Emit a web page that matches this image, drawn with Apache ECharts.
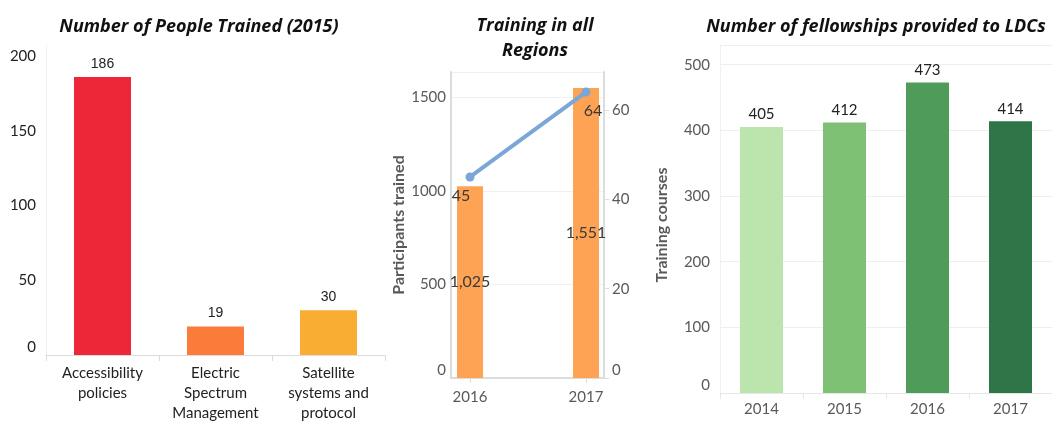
<!DOCTYPE html>
<html>
<head>
<meta charset="utf-8">
<script src="https://cdn.jsdelivr.net/npm/echarts@6/dist/echarts.min.js"></script>
<style>
  html, body { margin: 0; padding: 0; background: #fff; }
  #chart { width: 1052px; height: 423px; }
</style>
</head>
<body>
<div id="chart"></div>
<script>
// People trained in 2015, by course topic
const topics = ['Accessibility\npolicies', 'Electric\nSpectrum\nManagement', 'Satellite\nsystems and\nprotocol'];
const peopleTrained = [186, 19, 30];
const topicColors = ['#ED2738', '#FB7B3B', '#F9AE33'];

// Training in all regions
const regionYears = [2016, 2017];
const participants = [1025, 1551];
const courses = [45, 64];

// Fellowships provided to LDCs
const fellowYears = ['2014', '2015', '2016', '2017'];
const fellowships = [405, 412, 473, 414];
const fellowColors = ['#BCE4AD', '#7FC174', '#4F9C5A', '#2E7548'];

const FONT = 'Lato, "Open Sans", sans-serif';
const GRAY = '#595959';

const chart = echarts.init(document.getElementById('chart'), null, { renderer: 'canvas' });

const titleStyle = { fontFamily: '"Open Sans", Lato, sans-serif', fontSize: 18, fontWeight: 'bold', fontStyle: 'italic', color: '#111', lineHeight: 25 };
const nameStyle = { fontFamily: FONT, fontSize: 16, fontWeight: 'bold', color: GRAY };

const option = {
  animation: false,
  title: [
    { text: 'Number of People Trained (2015)', left: 194, top: 9, textAlign: 'center', textStyle: titleStyle },
    { text: 'Training in all\nRegions', left: 530, top: 8, textAlign: 'center', textStyle: titleStyle },
    { text: 'Number of fellowships provided to LDCs', left: 871, top: 9, textAlign: 'center', textStyle: titleStyle }
  ],
  grid: [
    { left: 46, top: 45.5, width: 339, height: 310.5 },
    { left: 451, top: 72, width: 153, height: 306 },
    { left: 720, top: 45, width: 344, height: 348 }
  ],
  xAxis: [
    {
      gridIndex: 0, type: 'category', data: topics,
      axisLine: { lineStyle: { color: '#dcdcdc' } },
      axisTick: { show: true, length: 6, lineStyle: { color: '#dcdcdc' } },
      axisLabel: { fontFamily: FONT, fontSize: 15, color: '#222', lineHeight: 20, margin: 8, interval: 0 }
    },
    {
      gridIndex: 1, type: 'value', min: 2015.836, max: 2017.155,
      splitLine: { show: false },
      axisLine: { show: true, lineStyle: { color: '#dcdcdc', width: 2 } },
      axisTick: { show: true, customValues: regionYears, length: 5, lineStyle: { color: '#dcdcdc' } },
      axisLabel: { customValues: regionYears, fontFamily: FONT, fontSize: 15, color: GRAY, margin: 12, formatter: v => String(v) }
    },
    {
      gridIndex: 2, type: 'category', data: fellowYears,
      axisLine: { lineStyle: { color: '#e6e6e6' } },
      axisTick: { show: true, length: 6, lineStyle: { color: '#e6e6e6' } },
      axisLabel: { fontFamily: FONT, fontSize: 15, color: GRAY, margin: 9 }
    }
  ],
  yAxis: [
    {
      gridIndex: 0, type: 'value', min: 0, max: 207, interval: 50,
      splitLine: { show: false },
      axisLine: { show: true, lineStyle: { color: '#f0f0f0' } },
      axisTick: { show: false },
      axisLabel: { fontFamily: FONT, fontSize: 15, color: '#222', margin: 10, showMaxLabel: false, verticalAlignMinLabel: 'bottom' }
    },
    {
      gridIndex: 1, type: 'value', min: 0, max: 1636, interval: 500,
      name: 'Participants trained', nameLocation: 'middle', nameRotate: 90, nameGap: 44,
      nameTextStyle: nameStyle,
      splitLine: { show: true, lineStyle: { color: '#f0f0f0' } },
      axisLine: { show: true, lineStyle: { color: '#dcdcdc', width: 2 } },
      axisTick: { show: false },
      axisLabel: { fontFamily: FONT, fontSize: 15, color: GRAY, margin: 5, showMaxLabel: false, verticalAlignMinLabel: 'bottom', formatter: v => String(v) }
    },
    {
      gridIndex: 1, type: 'value', min: 0, max: 68.5, interval: 20, position: 'right',
      name: 'Training courses', nameLocation: 'middle', nameRotate: 90, nameGap: 50,
      nameTextStyle: nameStyle,
      splitLine: { show: false },
      axisLine: { show: true, lineStyle: { color: '#dcdcdc', width: 2 } },
      axisTick: { show: true, length: 5, lineStyle: { color: '#dcdcdc' } },
      axisLabel: { fontFamily: FONT, fontSize: 15, color: GRAY, margin: 8, showMaxLabel: false, verticalAlignMinLabel: 'bottom' }
    },
    {
      gridIndex: 2, type: 'value', min: 0, max: 530, interval: 100,
      splitLine: { show: true, lineStyle: { color: '#efefef' } },
      axisLine: { show: true, lineStyle: { color: '#f0f0f0' } },
      axisTick: { show: false },
      axisLabel: { fontFamily: FONT, fontSize: 15, color: GRAY, margin: 10, showMaxLabel: false, verticalAlignMinLabel: 'bottom' }
    }
  ],
  series: [
    {
      type: 'bar', xAxisIndex: 0, yAxisIndex: 0, barWidth: 57,
      data: peopleTrained.map((v, i) => ({ value: v, itemStyle: { color: topicColors[i] } })),
      label: { show: true, position: 'top', distance: 6, fontFamily: '"Liberation Sans", Arial, sans-serif', fontSize: 14, color: '#222' }
    },
    {
      type: 'bar', xAxisIndex: 1, yAxisIndex: 1, barWidth: 26,
      data: regionYears.map((y, i) => [y, participants[i]]),
      itemStyle: { color: '#FDA353' },
      label: {
        show: true, position: 'inside', fontFamily: FONT, fontSize: 16, color: '#3a3a3a',
        formatter: p => p.value[1].toLocaleString('en-US')
      },
      z: 2
    },
    {
      type: 'line', xAxisIndex: 1, yAxisIndex: 2,
      data: regionYears.map((y, i) => ({ value: [y, courses[i]], label: { offset: [i === 0 ? -9 : 7, 0] } })),
      lineStyle: { color: '#7BA6D8', width: 4 },
      itemStyle: { color: '#7BA6D8' },
      symbol: 'circle', symbolSize: 9,
      label: {
        show: true, position: 'bottom', distance: 6, fontFamily: FONT, fontSize: 16, color: '#3a3a3a',
        formatter: p => String(p.value[1])
      },
      z: 3
    },
    {
      type: 'bar', xAxisIndex: 2, yAxisIndex: 3, barWidth: 43,
      data: fellowships.map((v, i) => ({ value: v, itemStyle: { color: fellowColors[i] } })),
      label: { show: true, position: 'top', distance: 5, fontFamily: FONT, fontSize: 15, color: '#222' }
    }
  ]
};

chart.setOption(option);
</script>
</body>
</html>
